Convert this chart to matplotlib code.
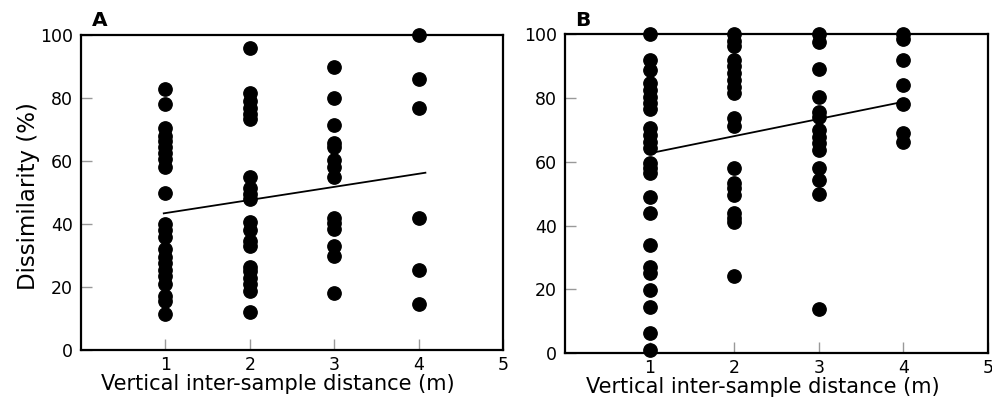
import matplotlib.pyplot as plt

# Panel A: dissimilarity (%) by vertical inter-sample distance (m)
a_x1 = [83, 78, 70.5, 68, 66.5, 64.5, 62.5, 60.5, 58, 50, 40, 38, 36, 32, 29.5, 27.5, 25.5, 23.5, 21, 17, 15.5, 11.5]
a_x2 = [96, 81.5, 79, 77, 75, 73.5, 55, 51.5, 49.5, 48, 40.5, 38, 34.5, 33, 26.5, 25, 23, 21, 18.8, 12.2]
a_x3 = [90, 80, 71.5, 65.8, 64.5, 60.3, 58.2, 55, 42, 40.4, 38.3, 33, 29.8, 18]
a_x4 = [100, 86.2, 77, 42, 25.4, 14.6]

# Panel B
b_x1 = [100, 92, 89, 84.7, 82.6, 80.5, 78.4, 76.5, 70.5, 68.3, 66.3, 64.3, 59.6, 58, 56.5,
        49, 44, 34, 27, 25, 19.8, 14.5, 6.2, 0.8]
b_x2 = [100, 98.1, 96.4, 92, 90.2, 87.8, 85.7, 83.6, 81.5, 73.7, 71.3, 58.2, 53.5, 51.7,
        49.6, 44, 42.3, 41.2, 24.2]
b_x3 = [100, 97.5, 89.3, 80.4, 75.8, 74.2, 70, 67.9, 65.8, 63.7, 58, 54.3, 50, 13.8]
b_x4 = [100, 98.5, 92, 84.2, 78.2, 69, 66.3]

# fitted lines: (x start, x end, y start, y end)
a_fit = (0.98, 4.08, 43.4, 56.3)
b_fit = (1.0, 3.95, 62.7, 78.6)

panels = [
    ("A", [a_x1, a_x2, a_x3, a_x4], a_fit, [0.0817, 0.1525, 0.4254, 0.7625]),
    ("B", [b_x1, b_x2, b_x3, b_x4], b_fit, [0.5696, 0.1453, 0.4264, 0.7712]),
]

plt.rcParams["font.family"] = "DejaVu Sans"

fig = plt.figure(figsize=(9.92, 4.13), dpi=100)

for letter, columns, fit, rect in panels:
    ax = fig.add_axes(rect)
    for dist, values in enumerate(columns, start=1):
        ax.plot([dist] * len(values), values, "o", color="black",
                markersize=9.6, clip_on=False, zorder=3)
    ax.plot(fit[:2], fit[2:], color="black", lw=1.3, zorder=2)

    ax.set_xlim(0, 5)
    ax.set_ylim(0, 100)
    ax.set_xticks([1, 2, 3, 4, 5])
    ax.set_yticks([0, 20, 40, 60, 80, 100])
    ax.tick_params(direction="in", length=8, width=1, color="#999999",
                   labelsize=12.5, pad=6)
    ax.tick_params(axis="x", pad=4)
    for spine in ax.spines.values():
        spine.set_linewidth(1.6)
    ax.set_xlabel("Vertical inter-sample distance (m)", fontsize=15,
                  labelpad=0, x=0.467)
    if letter == "A":
        ax.set_ylabel("Dissimilarity (%)", fontsize=16.5, labelpad=0, y=0.49)
    ax.text(0.025, 1.015, letter, transform=ax.transAxes, fontsize=14.5,
            fontweight="bold", ha="left", va="bottom")

fig.savefig("out.png", dpi=100, facecolor="white")
